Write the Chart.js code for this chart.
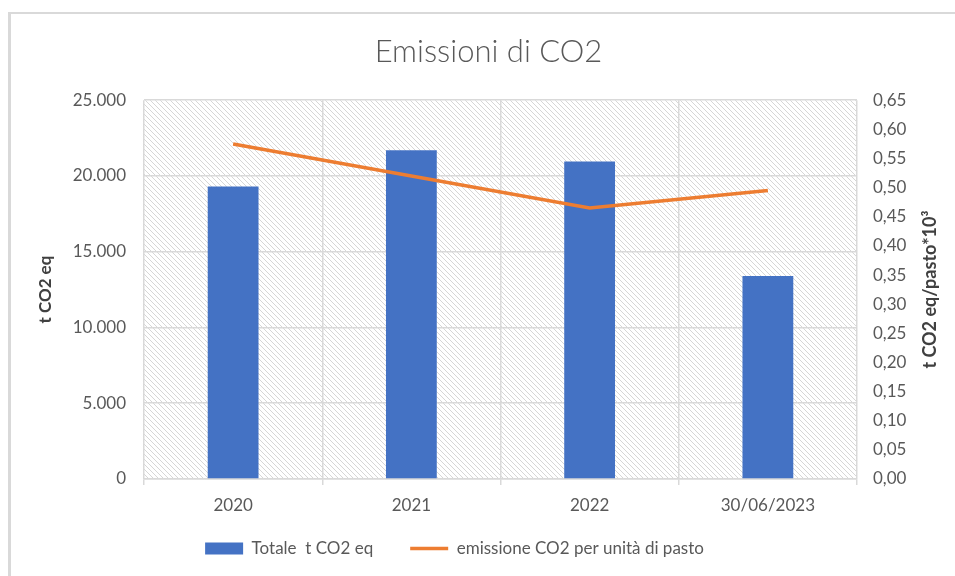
<!DOCTYPE html>
<html>
<head>
<meta charset="utf-8">
<script src="https://cdn.jsdelivr.net/npm/chart.js@4"></script>
<style>
  html, body { margin: 0; padding: 0; background: #fff; overflow: hidden; }
  #frame { position: absolute; left: 8px; top: 12px; width: 1000px; height: 620px;
           border-top: 2px solid #d9d9d9; border-left: 3px solid #d9d9d9; }
  #wrap { position: absolute; left: 0; top: 0; width: 955px; height: 576px; }
</style>
</head>
<body>
<div id="frame"></div>
<div id="wrap"><canvas id="chart" width="955" height="576"></canvas></div>
<script>
const years = ['2020', '2021', '2022', '30/06/2023'];
const totals = [19300, 21700, 20950, 13400];
const perMeal = [0.575, 0.52, 0.465, 0.495];

const leftTicksMax = 25000;
const rightTicksMax = 0.65;

const font = 'Lato, "Open Sans", sans-serif';
const gridColor = '#d9d9d9';

function itNumber(v) {
  return String(Math.round(v)).replace(/\B(?=(\d{3})+(?!\d))/g, '.');
}

// hatched plot background like the Excel chart
function makeHatch() {
  const c = document.createElement('canvas');
  c.width = 5; c.height = 5;
  const g = c.getContext('2d');
  g.fillStyle = '#fff';
  g.fillRect(0, 0, 5, 5);
  g.strokeStyle = '#d6d6d6';
  g.lineWidth = 1;
  g.beginPath();
  g.moveTo(-1, -1); g.lineTo(6, 6);
  g.moveTo(-1, 4); g.lineTo(1, 6);
  g.moveTo(4, -1); g.lineTo(6, 1);
  g.stroke();
  return c;
}

const hatchPlugin = {
  id: 'hatch',
  beforeDraw(chart) {
    const { ctx, chartArea: a } = chart;
    ctx.save();
    ctx.fillStyle = ctx.createPattern(makeHatch(), 'repeat');
    ctx.fillRect(a.left, a.top, a.right - a.left, a.bottom - a.top);
    ctx.restore();
  }
};

// legend sits a bit higher and left of where chart.js centres it
const legendShift = {
  id: 'legendShift',
  afterLayout(chart) {
    const lg = chart.legend;
    lg.top -= 12; lg.bottom -= 12;
    lg.left -= 34; lg.right -= 34;
  }
};

// right axis title reads bottom-to-top in the original
const rightTitlePlugin = {
  id: 'rightTitle',
  afterDraw(chart) {
    const { ctx, chartArea: a } = chart;
    ctx.save();
    ctx.translate(930, (a.top + a.bottom) / 2);
    ctx.rotate(-Math.PI / 2);
    ctx.textAlign = 'center';
    ctx.textBaseline = 'middle';
    ctx.fillStyle = '#404040';
    ctx.font = 'bold 18px ' + font;
    ctx.fillText('t CO2 eq/pasto*10³', 0, 0);
    ctx.restore();
  }
};

new Chart(document.getElementById('chart'), {
  data: {
    labels: years,
    datasets: [
      {
        type: 'bar',
        label: 'Totale  t CO2 eq',
        data: totals,
        backgroundColor: '#4472c4',
        borderWidth: 0,
        barPercentage: 0.285,
        categoryPercentage: 1,
        yAxisID: 'y',
        pointStyle: 'rect',
        order: 2
      },
      {
        type: 'line',
        label: 'emissione CO2 per unità di pasto',
        data: perMeal,
        borderColor: '#ed7d31',
        backgroundColor: '#ed7d31',
        borderWidth: 3.5,
        pointRadius: 0,
        pointStyle: 'line',
        tension: 0,
        yAxisID: 'y1',
        order: 1
      }
    ]
  },
  options: {
    responsive: false,
    animation: false,
    layout: { padding: { left: 22, right: 0, top: 0, bottom: -3 } },
    plugins: {
      title: {
        display: true,
        text: 'Emissioni di CO2',
        color: '#595959',
        font: { family: font, size: 31, weight: 300 },
        padding: { top: 33, bottom: 30 }
      },
      legend: {
        position: 'bottom',
        labels: {
          usePointStyle: true,
          pointStyleWidth: 38,
          boxHeight: 12,
          padding: 37,
          color: '#595959',
          font: { family: font, size: 17 },
          sort: (a, b) => a.datasetIndex - b.datasetIndex
        }
      },
      tooltip: { enabled: false }
    },
    scales: {
      x: {
        grid: { color: gridColor, lineWidth: 1.5, tickLength: 6, offset: true },
        border: { color: gridColor, width: 1.5 },
        ticks: { color: '#595959', padding: 10, font: { family: font, size: 17 } },
        afterFit(s) { s.height = 36; }
      },
      y: {
        position: 'left',
        min: 0,
        max: leftTicksMax,
        grid: { color: gridColor, lineWidth: 1.5, drawTicks: false },
        border: { display: false },
        ticks: {
          stepSize: 5000,
          padding: 18,
          color: '#595959',
          font: { family: font, size: 17 },
          callback: v => itNumber(v)
        },
        title: {
          display: true,
          text: 't CO2 eq',
          color: '#404040',
          font: { family: font, size: 17, weight: 'bold' },
          padding: { top: 13, bottom: 0 }
        },
        afterFit(s) { s.width = 122; }
      },
      y1: {
        position: 'right',
        min: 0,
        max: rightTicksMax,
        grid: { display: false, drawTicks: false },
        border: { display: false },
        ticks: {
          stepSize: 0.05,
          padding: 16,
          color: '#595959',
          font: { family: font, size: 17 },
          callback: v => v.toFixed(2).replace('.', ',')
        },
        afterFit(s) { s.width = 98; }
      }
    }
  },
  plugins: [hatchPlugin, legendShift, rightTitlePlugin]
});
</script>
</body>
</html>
